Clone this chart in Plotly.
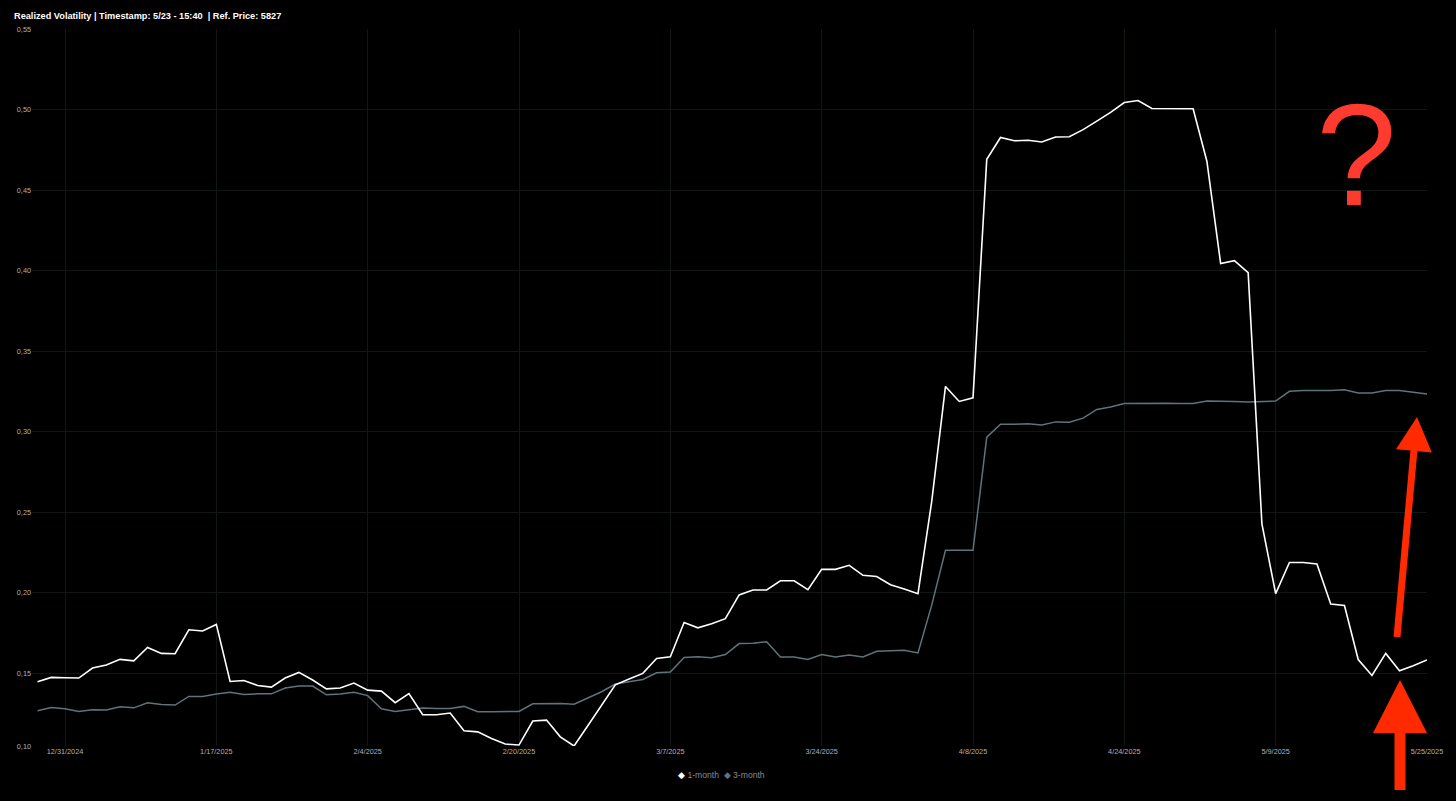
import pandas as pd
import plotly.graph_objects as go

# ---------------- data ----------------
holidays = ["2025-01-01", "2025-01-09", "2025-01-20", "2025-02-17", "2025-04-18"]
trading_days = pd.bdate_range("2024-12-27", "2025-05-23", freq="C", holidays=holidays)
dates = [f"{d.month}/{d.day}/{d.year}" for d in trading_days] + ["5/25/2025"]

one_month = [
    0.1446, 0.1473, 0.1471, 0.1469, 0.1531, 0.1550, 0.1585, 0.1576, 0.1659, 0.1622,
    0.1620, 0.1769, 0.1761, 0.1802, 0.1448, 0.1454, 0.1423, 0.1413, 0.1469, 0.1504,
    0.1457, 0.1402, 0.1407, 0.1438, 0.1394, 0.1388, 0.1316, 0.1373, 0.1241, 0.1241,
    0.1252, 0.1142, 0.1135, 0.1094, 0.1059, 0.1053, 0.1202, 0.1208, 0.1104, 0.1047,
    0.1173, 0.1299, 0.1427, 0.1463, 0.1498, 0.1591, 0.1601, 0.1814, 0.1781, 0.1806,
    0.1838, 0.1985, 0.2016, 0.2016, 0.2073, 0.2073, 0.2018, 0.2144, 0.2144, 0.2169,
    0.2107, 0.2100, 0.2049, 0.2022, 0.1993, 0.2566, 0.3280, 0.3187, 0.3209, 0.4691,
    0.4826, 0.4806, 0.4809, 0.4798, 0.4829, 0.4831, 0.4875, 0.4928, 0.4982, 0.5043,
    0.5056, 0.5006, 0.5006, 0.5006, 0.5005, 0.4679, 0.4044, 0.4061, 0.3987, 0.2427,
    0.1993, 0.2187, 0.2187, 0.2177, 0.1929, 0.1920, 0.1584, 0.1485, 0.1622, 0.1514,
    0.1545, 0.1582,
]

three_month = [
    0.1266, 0.1286, 0.1278, 0.1261, 0.1272, 0.1270, 0.1291, 0.1284, 0.1316, 0.1305,
    0.1301, 0.1355, 0.1355, 0.1370, 0.1380, 0.1367, 0.1371, 0.1371, 0.1407, 0.1419,
    0.1419, 0.1365, 0.1370, 0.1380, 0.1360, 0.1278, 0.1262, 0.1274, 0.1283, 0.1280,
    0.1280, 0.1293, 0.1260, 0.1260, 0.1260, 0.1262, 0.1309, 0.1311, 0.1311, 0.1307,
    0.1347, 0.1384, 0.1432, 0.1448, 0.1460, 0.1502, 0.1506, 0.1597, 0.1601, 0.1595,
    0.1615, 0.1683, 0.1685, 0.1694, 0.1600, 0.1600, 0.1585, 0.1615, 0.1600, 0.1612,
    0.1600, 0.1635, 0.1640, 0.1642, 0.1625, 0.1922, 0.2262, 0.2262, 0.2262, 0.2965,
    0.3045, 0.3045, 0.3049, 0.3040, 0.3060, 0.3058, 0.3083, 0.3137, 0.3152, 0.3174,
    0.3176, 0.3174, 0.3176, 0.3174, 0.3174, 0.3189, 0.3189, 0.3187, 0.3184, 0.3187,
    0.3189, 0.3250, 0.3255, 0.3255, 0.3255, 0.3260, 0.3240, 0.3240, 0.3255, 0.3255,
    0.3245, 0.3233,
]

x_tick_labels = dates[2::11]
y_ticks = [0.15, 0.20, 0.25, 0.30, 0.35, 0.40, 0.45, 0.50, 0.55]
series_names = ["1-month", "3-month"]

# ---------------- style ----------------
W, H = 1456, 801
ML, MR, MT, MB = 32, 29, 29, 55
FONT = "Liberation Sans, Arial, Helvetica, sans-serif"
WHITE = "#ffffff"
GREY = "#5c7579"
GRID = "#0b1816"
TICK = "#b0b0b0"
RED_Q = "#ff3b30"
RED_A = "#ff2a00"

pw, ph = W - ML - MR, H - MT - MB


def px(xp):
    return (xp - ML) / pw


def py(yp):
    return (H - MB - yp) / ph


y_min = min(min(one_month), min(three_month))
tick_vals = [y_min] + y_ticks
tick_text = [f"{v:.2f}".replace(".", ",") for v in tick_vals]

fig = go.Figure()
fig.add_trace(go.Scatter(x=dates, y=three_month, mode="lines", name=series_names[1],
                         line=dict(color=GREY, width=1.5), showlegend=False))
fig.add_trace(go.Scatter(x=dates, y=one_month, mode="lines", name=series_names[0],
                         line=dict(color=WHITE, width=1.6), showlegend=False))


def arrow_path(tail, tip, shaft_w, head_w, head_l):
    import math
    dx, dy = tip[0] - tail[0], tip[1] - tail[1]
    L = math.hypot(dx, dy)
    ux, uy = dx / L, dy / L
    nx, ny = -uy, ux
    bx, by = tip[0] - head_l * ux, tip[1] - head_l * uy
    pts = [
        (tail[0] + nx * shaft_w / 2, tail[1] + ny * shaft_w / 2),
        (bx + nx * shaft_w / 2, by + ny * shaft_w / 2),
        (bx + nx * head_w / 2, by + ny * head_w / 2),
        tip,
        (bx - nx * head_w / 2, by - ny * head_w / 2),
        (bx - nx * shaft_w / 2, by - ny * shaft_w / 2),
        (tail[0] - nx * shaft_w / 2, tail[1] - ny * shaft_w / 2),
    ]
    return "M " + " L ".join(f"{px(a):.5f},{py(b):.5f}" for a, b in pts) + " Z"


shapes = [
    dict(type="path", xref="paper", yref="paper",
         path=arrow_path((1397, 637), (1417, 417), 7, 36, 34),
         fillcolor=RED_A, line=dict(width=0)),
    dict(type="path", xref="paper", yref="paper",
         path=arrow_path((1400, 790), (1400, 680), 11, 54, 53),
         fillcolor=RED_A, line=dict(width=0)),
]

annotations = [
    dict(text="?", x=px(1356), y=py(155), xref="paper", yref="paper",
         xanchor="center", yanchor="middle", showarrow=False,
         font=dict(family=FONT, size=145, color=RED_Q)),
    dict(text=(f'<span style="color:{WHITE}">◆</span> {series_names[0]}  '
               f'<span style="color:{GREY}">◆</span> {series_names[1]}'),
         x=px(721), y=py(775), xref="paper", yref="paper",
         xanchor="center", yanchor="middle", showarrow=False,
         font=dict(family=FONT, size=8.6, color="#8a8a8a")),
]

fig.update_layout(
    width=W, height=H, autosize=False,
    margin=dict(l=ML, r=MR, t=MT, b=MB, pad=0),
    paper_bgcolor="#000000", plot_bgcolor="#000000",
    font=dict(family=FONT, color=TICK, size=7.3),
    title=dict(text="<b>Realized Volatility | Timestamp: 5/23 - 15:40 \u00a0| Ref. Price: 5827</b>",
               x=14 / W, xanchor="left", y=1 - 16 / H, yanchor="middle",
               font=dict(family=FONT, size=9.2, color="#ffffff")),
    showlegend=False,
    shapes=shapes,
    annotations=annotations,
    xaxis=dict(type="category", range=[-0.4, len(dates) - 1],
               tickmode="array", tickvals=x_tick_labels, ticktext=x_tick_labels,
               showgrid=True, gridcolor=GRID, gridwidth=1, zeroline=False,
               showline=False, ticks="", tickfont=dict(size=7.3, color=TICK)),
    yaxis=dict(range=[y_min, 0.55], tickmode="array", tickvals=tick_vals, ticktext=tick_text,
               showgrid=True, gridcolor=GRID, gridwidth=1, zeroline=False,
               showline=False, ticks="", tickfont=dict(size=7.3, color=TICK)),
)

fig.write_html("out.html", config={"displayModeBar": False},
               post_script="document.body.style.margin='0';document.body.style.overflow='hidden';")
